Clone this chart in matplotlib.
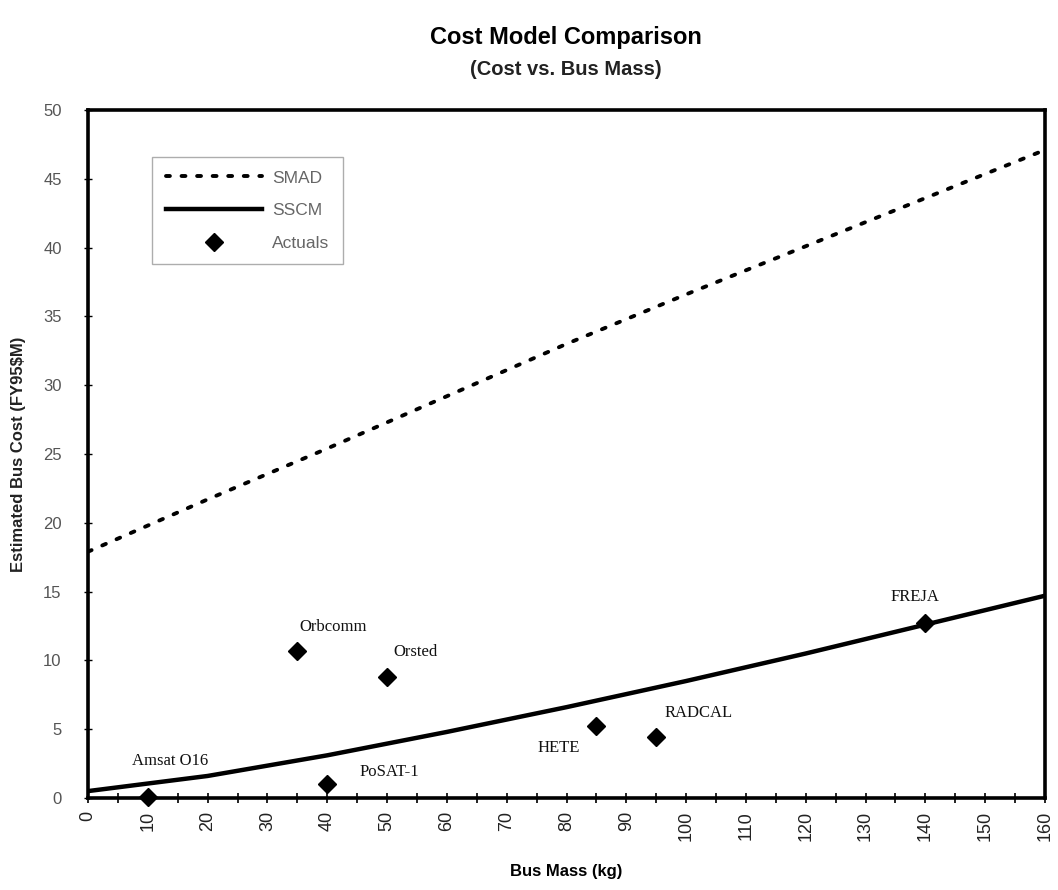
import numpy as np
import matplotlib
matplotlib.use("Agg")
import matplotlib.pyplot as plt

# Model curves
mass_grid = [0, 20, 40, 60, 80, 100, 120, 140, 160]
smad_cost = [17.9, 21.7, 25.4, 29.2, 33.0, 36.6, 40.1, 43.6, 47.1]
sscm_cost = [0.5, 1.6, 3.1, 4.8, 6.6, 8.5, 10.5, 12.6, 14.7]

# Actual spacecraft
sat_names = ["Amsat O16", "PoSAT-1", "Orbcomm", "Orsted", "HETE", "RADCAL", "FREJA"]
sat_mass = [10, 40, 35, 50, 85, 95, 140]
sat_cost = [0.1, 1.0, 10.7, 8.8, 5.2, 4.4, 12.7]

# label offsets in pixels (text centre relative to the point)
label_offsets = [(22, 36), (62, 12), (36, 24), (28, 25), (-38, -22), (42, 24), (-10, 26)]

fig = plt.figure(figsize=(10.58, 8.9), dpi=100)
ax = fig.add_axes([0.0832, 0.1034, 0.9045, 0.773])

ax.plot(mass_grid, smad_cost, color="black", lw=2.8,
        linestyle=(0, (1.0, 3.0)), dash_capstyle="round", label="SMAD")
ax.plot(mass_grid, sscm_cost, color="black", lw=3.2, label="SSCM")
ax.plot(sat_mass, sat_cost, linestyle="none", marker="D", markersize=9,
        color="black", label="Actuals", zorder=5, clip_on=False)

for name, x, y, off in zip(sat_names, sat_mass, sat_cost, label_offsets):
    ax.annotate(name, (x, y), xytext=off, textcoords="offset pixels",
                ha="center", va="center", fontsize=12,
                family="Liberation Serif", color="#111111")

ax.set_xlim(0, 160)
ax.set_ylim(0, 50)
ax.set_xticks(np.arange(0, 161, 10))
ax.set_xticks(np.arange(0, 161, 5), minor=True)
ax.set_yticks(np.arange(0, 51, 5))

ax.tick_params(axis="x", which="both", direction="inout", length=7, width=1.2,
               labelsize=13, labelrotation=90, pad=6, labelcolor="#222222")
ax.tick_params(axis="y", direction="inout", length=6, width=1.0,
               labelsize=12, pad=16, labelcolor="#555555")
for lab in ax.get_xticklabels() + ax.get_yticklabels():
    lab.set_family("Liberation Sans")

for s in ax.spines.values():
    s.set_linewidth(2.6)

ax.set_xlabel("Bus Mass (kg)", fontsize=12, fontweight="bold",
              family="Liberation Sans", labelpad=16)
ax.set_ylabel("Estimated Bus Cost (FY95$M)", fontsize=12, fontweight="bold",
              family="Liberation Sans", labelpad=12, color="#222222")

fig.text(0.535, 0.958, "Cost Model Comparison", ha="center", va="center",
         fontsize=17, fontweight="bold", family="Liberation Sans")
fig.text(0.535, 0.922, "(Cost vs. Bus Mass)", ha="center", va="center",
         fontsize=14.5, fontweight="bold", family="Liberation Sans", color="#222222")

leg = ax.legend(loc="upper left", bbox_to_anchor=(0.058, 0.945), frameon=True,
                fancybox=False, edgecolor="#999999", handlelength=5.5,
                prop={"family": "Liberation Sans", "size": 12.5},
                labelspacing=1.0, borderpad=0.8, handletextpad=0.6)
leg.get_frame().set_linewidth(1.0)
for t in leg.get_texts():
    t.set_color("#666666")

fig.savefig("out.png", dpi=100)
